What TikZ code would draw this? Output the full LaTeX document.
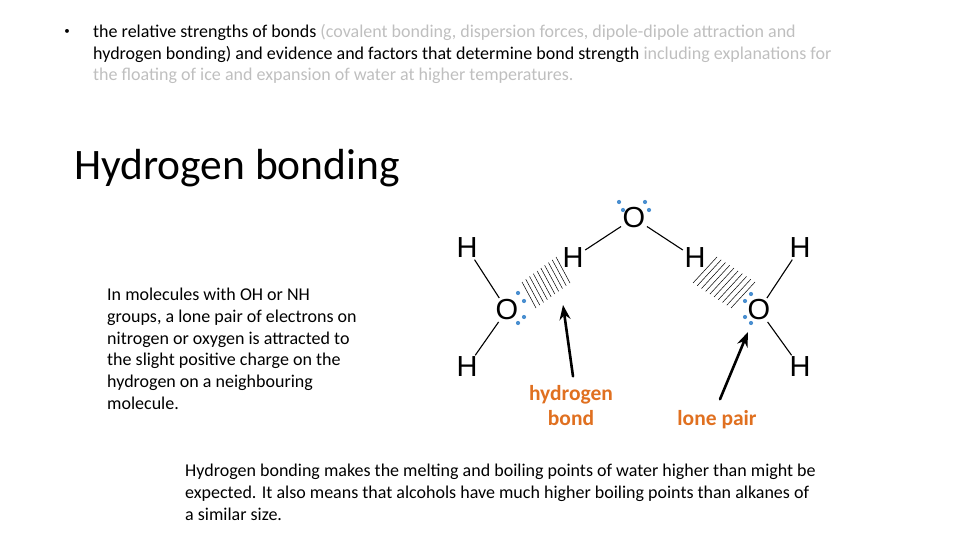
\documentclass[tikz,border=0pt]{standalone}
\usepackage{fontspec}
\setmainfont{Carlito}
\newfontfamily\atomfont{Liberation Sans}
\usetikzlibrary{arrows.meta,positioning,calc}
\definecolor{greytext}{HTML}{BFBFBF}
\definecolor{labelorange}{HTML}{E07020}
\definecolor{pairblue}{HTML}{4A8FD0}
\begin{document}
\begin{tikzpicture}[x=1pt, y=-1pt, >=Stealth]
	\tikzset{atom/.style={font=\atomfont\fontsize{29}{29}\selectfont, inner sep=1.5pt},
		para/.style={font=\fontsize{18}{21.7}\selectfont, align=left, anchor=north west, inner sep=0pt},
		bond/.style={line width=1.1pt},
		tag/.style={font=\bfseries\fontsize{21.5}{25}\selectfont, text=labelorange, align=center},
		pointer/.style={->, line width=2.6pt, line cap=round}}
	\useasboundingbox (0,0) rectangle (960,540);
	% heading text
	\node[font=\fontsize{11}{11}\selectfont, inner sep=0pt] (dot) at (67,32) {\textbullet};
	\node[para] (spec) at (93,24) {the relative strengths of bonds \textcolor{greytext}{(covalent bonding, dispersion forces, dipole-dipole attraction and}\\ hydrogen bonding) and evidence and factors that determine bond strength \textcolor{greytext}{including explanations for}\\ \textcolor{greytext}{the floating of ice and expansion of water at higher temperatures.}};
	\node[font=\fontsize{43.5}{44}\selectfont, anchor=west, inner sep=0pt] (title) at (74,168) {Hydrogen bonding};
	\node[para] (info) at (107,288) {In molecules with OH or NH\\ groups, a lone pair of electrons on\\ nitrogen or oxygen is attracted to\\ the slight positive charge on the\\ hydrogen on a neighbouring\\ molecule.};
	\node[para] (summary) at (185,464) {Hydrogen bonding makes the melting and boiling points of water higher than might be\\ expected. It also means that alcohols have much higher boiling points than alkanes of\\ a similar size.};

	% molecules
	\node[atom] (otop) at (634,218) {O};
	\node[atom] (hl) at (573,258) {H};
	\node[atom] (hr) at (695,258) {H};
	\node[atom] (ol) at (507,310) {O};
	\node[atom] (hlt) at (467,248) {H};
	\node[atom] (hlb) at (467,367) {H};
	\node[atom] (or) at (759,310) {O};
	\node[atom] (hrt) at (800,248) {H};
	\node[atom] (hrb) at (800,367) {H};
	\draw[bond] (otop) -- (hl);
	\draw[bond] (otop) -- (hr);
	\draw[bond] (ol) -- (hlt);
	\draw[bond] (ol) -- (hlb);
	\draw[bond] (or) -- (hrt);
	\draw[bond] (or) -- (hrb);

	% lone pairs
	\foreach \px/\py in {619/202, 623/210, 645/202, 649/210, 518/293, 524/301, 524/317, 518/323, 751/294, 745/301, 745/317, 751/323}
		\fill[pairblue] (\px,\py) circle (2.1);

	% hydrogen bonds
	\foreach \t in {0,...,9} {
		\draw[line width=0.5pt] ($(529,295)!\t/9!(563,270)+(-7,-13)$) -- ++(14,26);
		\draw[line width=0.5pt] ($(705,270)!\t/9!(743,295)+(-12,13)$) -- ++(24,-26);
	}

	% labels and pointers
	\node[tag] (hbond) at (571,406) {hydrogen\\bond};
	\node[tag] (lonepair) at (717,420) {lone pair};
	\coordinate (hbondtip) at (563,305);
	\coordinate (lonetip) at (748,332);
	\draw[pointer] (hbond.north) ++(2,-6) -- (hbondtip);
	\draw[pointer] (lonepair.north) ++(3,-8) -- (lonetip);
\end{tikzpicture}
\end{document}
